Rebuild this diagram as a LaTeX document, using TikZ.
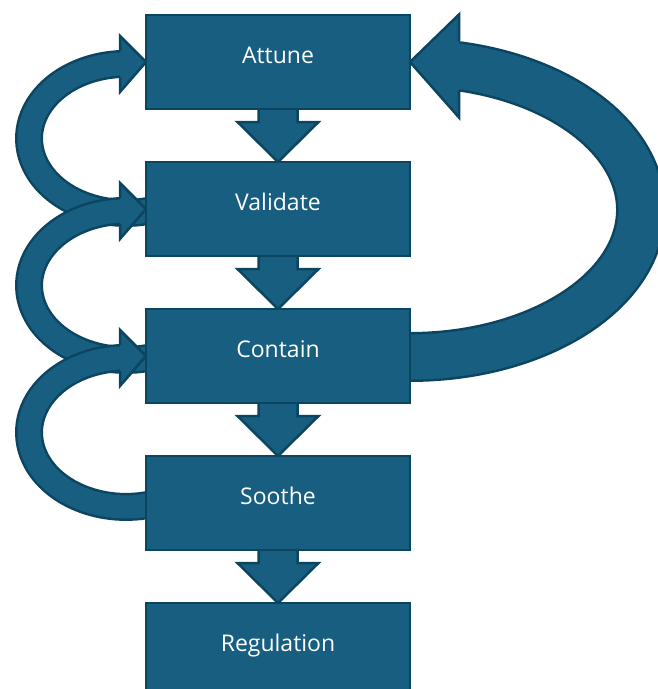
\documentclass[tikz,border=0pt]{standalone}
\usepackage{fontspec}
\setmainfont{Open Sans}
\usetikzlibrary{calc,backgrounds}
\definecolor{boxfill}{HTML}{175E80}
\definecolor{boxline}{HTML}{0C4560}
\tikzset{
  stepbox/.style={draw=boxline, fill=boxfill, line width=2.5pt, minimum width=264pt,
    minimum height=94pt, inner sep=0pt, outer sep=0pt, text=white,
    font=\fontsize{23}{27}\selectfont, text height=16.5pt, text depth=14.5pt},
  thinshaft/.style={draw=boxline, line width=2.5pt, double=boxfill, double distance=23pt},
  bigshaft/.style={draw=boxline, line width=2.5pt, double=boxfill, double distance=45pt},
  headline/.style={draw=boxline, line width=2.5pt, line join=miter, line cap=butt},
  blockarrow/.style={draw=boxline, fill=boxfill, line width=2.5pt, line join=miter},
}
\newcommand\loopback[1]{%
  \path (#1.west) ++(-20,76.4) coordinate (lc);
  \draw[thinshaft] ($(lc)+(33.2,70)$) arc[start angle=70,end angle=268,x radius=97,y radius=74.5];
  \fill[boxfill] ($(#1.west)+(-26,-26)$) -- (#1.west) -- ($(#1.west)+(-26,30)$) -- cycle;
  \draw[headline] ($(#1.west)+(-26,-11)$) -- ++(0,-15) -- (#1.west) -- ($(#1.west)+(-26,30)$) -- ++(0,-15);
}
\newcommand\stepdown[2]{%
  \draw[blockarrow] ($(#1.south)+(-19.5,-3)$) -- ++(0,16) -- ++(-21,0) -- (#2.north)
    -- ($(#1.south)+(40.5,13)$) -- ++(-21,0) -- ++(0,-16) -- cycle;
}
\begin{document}
\begin{tikzpicture}[x=1pt,y=-1pt]
\useasboundingbox (0,0) rectangle (657,689);
\clip (0,0) rectangle (657,689);
\node[stepbox] (att) at (278,62) {Attune};
\node[stepbox] (val) at (278,209) {Validate};
\node[stepbox] (con) at (278,356) {Contain};
\node[stepbox] (soo) at (278,503) {Soothe};
\node[stepbox] (reg) at (278,650) {Regulation};
\begin{scope}[on background layer]
  % big return arrow Contain -> Attune
  \path (con.east) ++(0,-146) coordinate (bc);
  \draw[bigshaft] ($(bc)+(-20.1,146.4)$) arc[start angle=95,end angle=-80,x radius=231,y radius=147];
  \fill[boxfill] ($(att.east)+(49,-47.5)$) -- (att.east) -- ($(att.east)+(49,55.5)$) -- cycle;
  \draw[headline] ($(att.east)+(49,-21)$) -- ++(0,-26.5) -- (att.east) -- ($(att.east)+(49,55.5)$) -- ++(0,-26.5);
  % left loops
  \loopback{att}
  \loopback{val}
  \loopback{con}
  % down arrows
  \stepdown{att}{val}
  \stepdown{val}{con}
  \stepdown{con}{soo}
  \stepdown{soo}{reg}
\end{scope}
\end{tikzpicture}
\end{document}
